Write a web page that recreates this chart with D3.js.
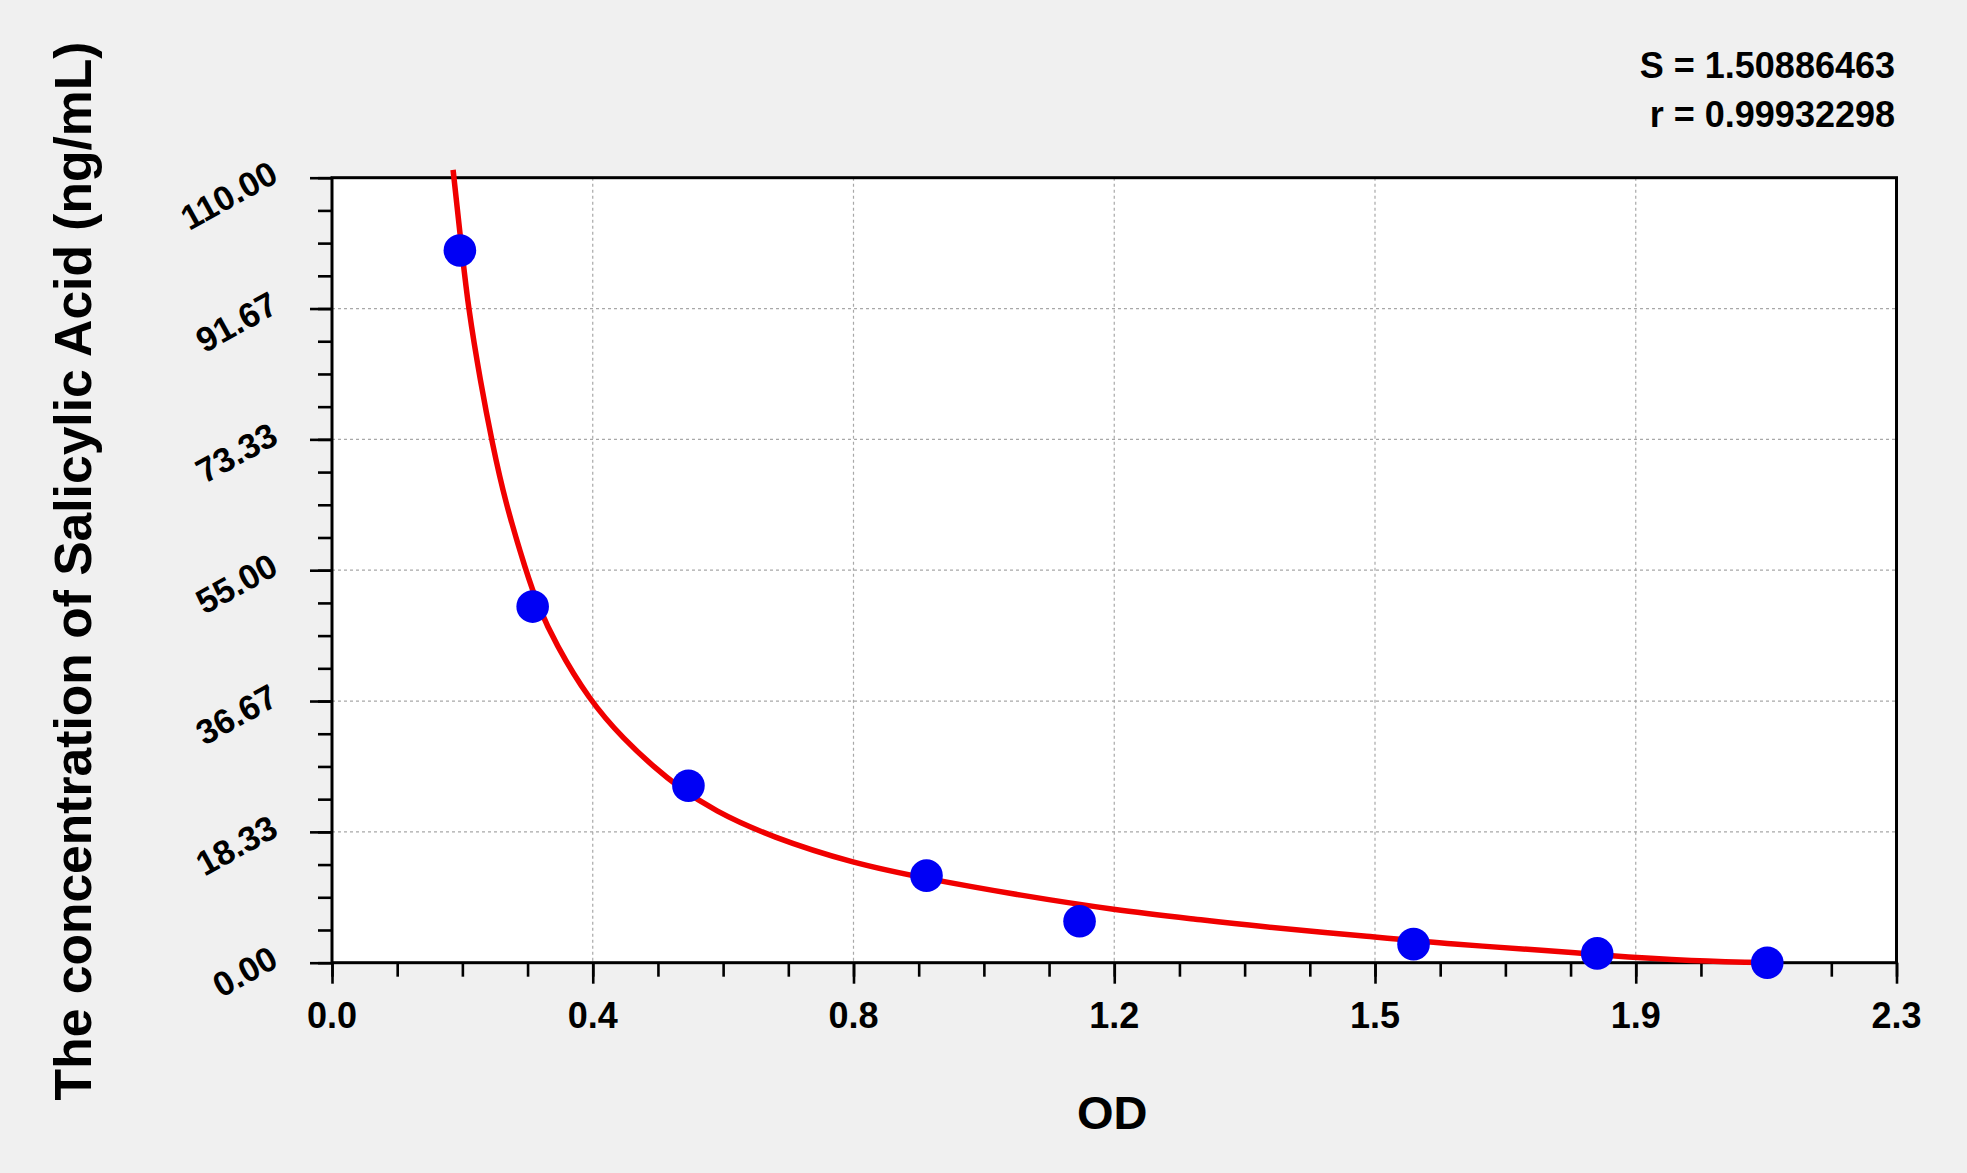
<!DOCTYPE html>
<html>
<head>
<meta charset="utf-8">
<script src="https://cdn.jsdelivr.net/npm/d3@7"></script>
<style>
  html, body { margin: 0; padding: 0; background: #f0f0f0; }
  svg { display: block; }
</style>
</head>
<body>
<div id="chart"></div>
<script>
// standard points (OD vs concentration)
const odValues = [0.188, 0.295, 0.524, 0.874, 1.099, 1.590, 1.860, 2.110];
const concValues = [99.8, 49.9, 24.8, 12.2, 5.8, 2.6, 1.3, 0];

// fitted curve
const curveOD = [0.178, 0.191, 0.200, 0.218, 0.236, 0.254, 0.286, 0.303, 0.328, 0.378, 0.430, 0.476, 0.507, 0.561, 0.646, 0.767, 0.873, 1.014, 1.150, 1.279, 1.350, 1.533, 1.644, 1.791, 1.860, 2.000, 2.130];
const curveConc = [111.1, 99.7, 92.0, 81.5, 72.6, 64.8, 54.6, 50.0, 44.8, 36.8, 31.2, 27.2, 24.8, 21.3, 17.6, 13.9, 11.8, 9.4, 7.4, 6.0, 5.2, 3.6, 2.6, 1.7, 1.1, 0.2, 0];

const xTickLabels = ["0.0", "0.4", "0.8", "1.2", "1.5", "1.9", "2.3"];
const yTickLabels = ["0.00", "18.33", "36.67", "55.00", "73.33", "91.67", "110.00"];
const statLines = ["S = 1.50886463", "r = 0.99932298"];

const width = 1967, height = 1173;
const plotLeft = 332, plotRight = 1896.5, plotTop = 177.7, plotBottom = 962.7;
const xMax = 2.3, yMax = 110;
const font = "Arial, 'Liberation Sans', sans-serif";

const x = d3.scaleLinear().domain([0, xMax]).range([plotLeft, plotRight]);
const y = d3.scaleLinear().domain([0, yMax]).range([plotBottom, plotTop]);

const xMajor = xTickLabels.map((d, i) => i * xMax / (xTickLabels.length - 1));
const yMajor = yTickLabels.map((d, i) => i * yMax / (yTickLabels.length - 1));
const xMinor = d3.range(0, 25).map(i => i * xMax / 24);
const yMinor = d3.range(0, 25).map(i => i * yMax / 24);

const svg = d3.select("#chart").append("svg")
  .attr("width", width)
  .attr("height", height)
  .style("background", "#f0f0f0");

// plot area
svg.append("rect")
  .attr("x", plotLeft).attr("y", plotTop)
  .attr("width", plotRight - plotLeft).attr("height", plotBottom - plotTop)
  .attr("fill", "#fff");

// grid
svg.append("g").selectAll("line")
  .data(xMajor.slice(1, -1))
  .join("line")
  .attr("x1", d => x(d)).attr("x2", d => x(d))
  .attr("y1", plotTop).attr("y2", plotBottom)
  .attr("stroke", "#a8a8a8").attr("stroke-width", 1.2)
  .attr("stroke-dasharray", "3,3");

svg.append("g").selectAll("line")
  .data(yMajor.slice(1, -1))
  .join("line")
  .attr("y1", d => y(d)).attr("y2", d => y(d))
  .attr("x1", plotLeft).attr("x2", plotRight)
  .attr("stroke", "#a8a8a8").attr("stroke-width", 1.2)
  .attr("stroke-dasharray", "3,3");

// ticks
const tickStyle = g => {
  g.select(".domain").remove();
  g.selectAll(".tick line").attr("stroke", "#000").attr("stroke-width", 2.6);
  g.selectAll("text").remove();
};

svg.append("g")
  .attr("transform", `translate(0,${plotBottom})`)
  .call(d3.axisBottom(x).tickValues(xMinor).tickSize(14))
  .call(tickStyle);
svg.append("g")
  .attr("transform", `translate(0,${plotBottom})`)
  .call(d3.axisBottom(x).tickValues(xMajor).tickSize(21))
  .call(tickStyle);
svg.append("g")
  .attr("transform", `translate(${plotLeft},0)`)
  .call(d3.axisLeft(y).tickValues(yMinor).tickSize(14))
  .call(tickStyle);
svg.append("g")
  .attr("transform", `translate(${plotLeft},0)`)
  .call(d3.axisLeft(y).tickValues(yMajor).tickSize(22))
  .call(tickStyle);

// frame
svg.append("rect")
  .attr("x", plotLeft).attr("y", plotTop)
  .attr("width", plotRight - plotLeft).attr("height", plotBottom - plotTop)
  .attr("fill", "none").attr("stroke", "#000").attr("stroke-width", 3);

// tick labels
svg.append("g").selectAll("text")
  .data(xMajor)
  .join("text")
  .attr("x", d => x(d))
  .attr("y", 1028)
  .attr("text-anchor", "middle")
  .attr("font-family", font).attr("font-weight", "bold").attr("font-size", 36)
  .text((d, i) => xTickLabels[i]);

svg.append("g").selectAll("text")
  .data(yMajor)
  .join("text")
  .attr("transform", d => `translate(280,${y(d) + 3}) rotate(-29)`)
  .attr("text-anchor", "end")
  .attr("font-family", font).attr("font-weight", "bold").attr("font-size", 34.5)
  .text((d, i) => yTickLabels[i]);

// fitted curve
const line = d3.line()
  .x(d => x(d[0]))
  .y(d => y(d[1]))
  .curve(d3.curveBasis);

svg.append("path")
  .datum(curveOD.map((d, i) => [d, curveConc[i]]))
  .attr("d", line)
  .attr("fill", "none")
  .attr("stroke", "#f00000")
  .attr("stroke-width", 5.5)
  .attr("stroke-linejoin", "round");

// points
svg.append("g").selectAll("circle")
  .data(odValues.map((d, i) => [d, concValues[i]]))
  .join("circle")
  .attr("cx", d => x(d[0]))
  .attr("cy", d => y(d[1]))
  .attr("r", 16.3)
  .attr("fill", "#0000f5");

// axis titles
svg.append("text")
  .attr("x", (plotLeft + plotRight) / 2 - 2)
  .attr("y", 1129)
  .attr("text-anchor", "middle")
  .attr("font-family", font).attr("font-weight", "bold").attr("font-size", 47)
  .text("OD");

svg.append("text")
  .attr("transform", `translate(91,571) rotate(-90)`)
  .attr("text-anchor", "middle")
  .attr("font-family", font).attr("font-weight", "bold").attr("font-size", 51.6)
  .text("The concentration of Salicylic Acid (ng/mL)");

// fit statistics
svg.append("g").selectAll("text")
  .data(statLines)
  .join("text")
  .attr("x", 1895)
  .attr("y", (d, i) => 78 + i * 49)
  .attr("text-anchor", "end")
  .attr("font-family", font).attr("font-weight", "bold").attr("font-size", 36)
  .text(d => d);
</script>
</body>
</html>
